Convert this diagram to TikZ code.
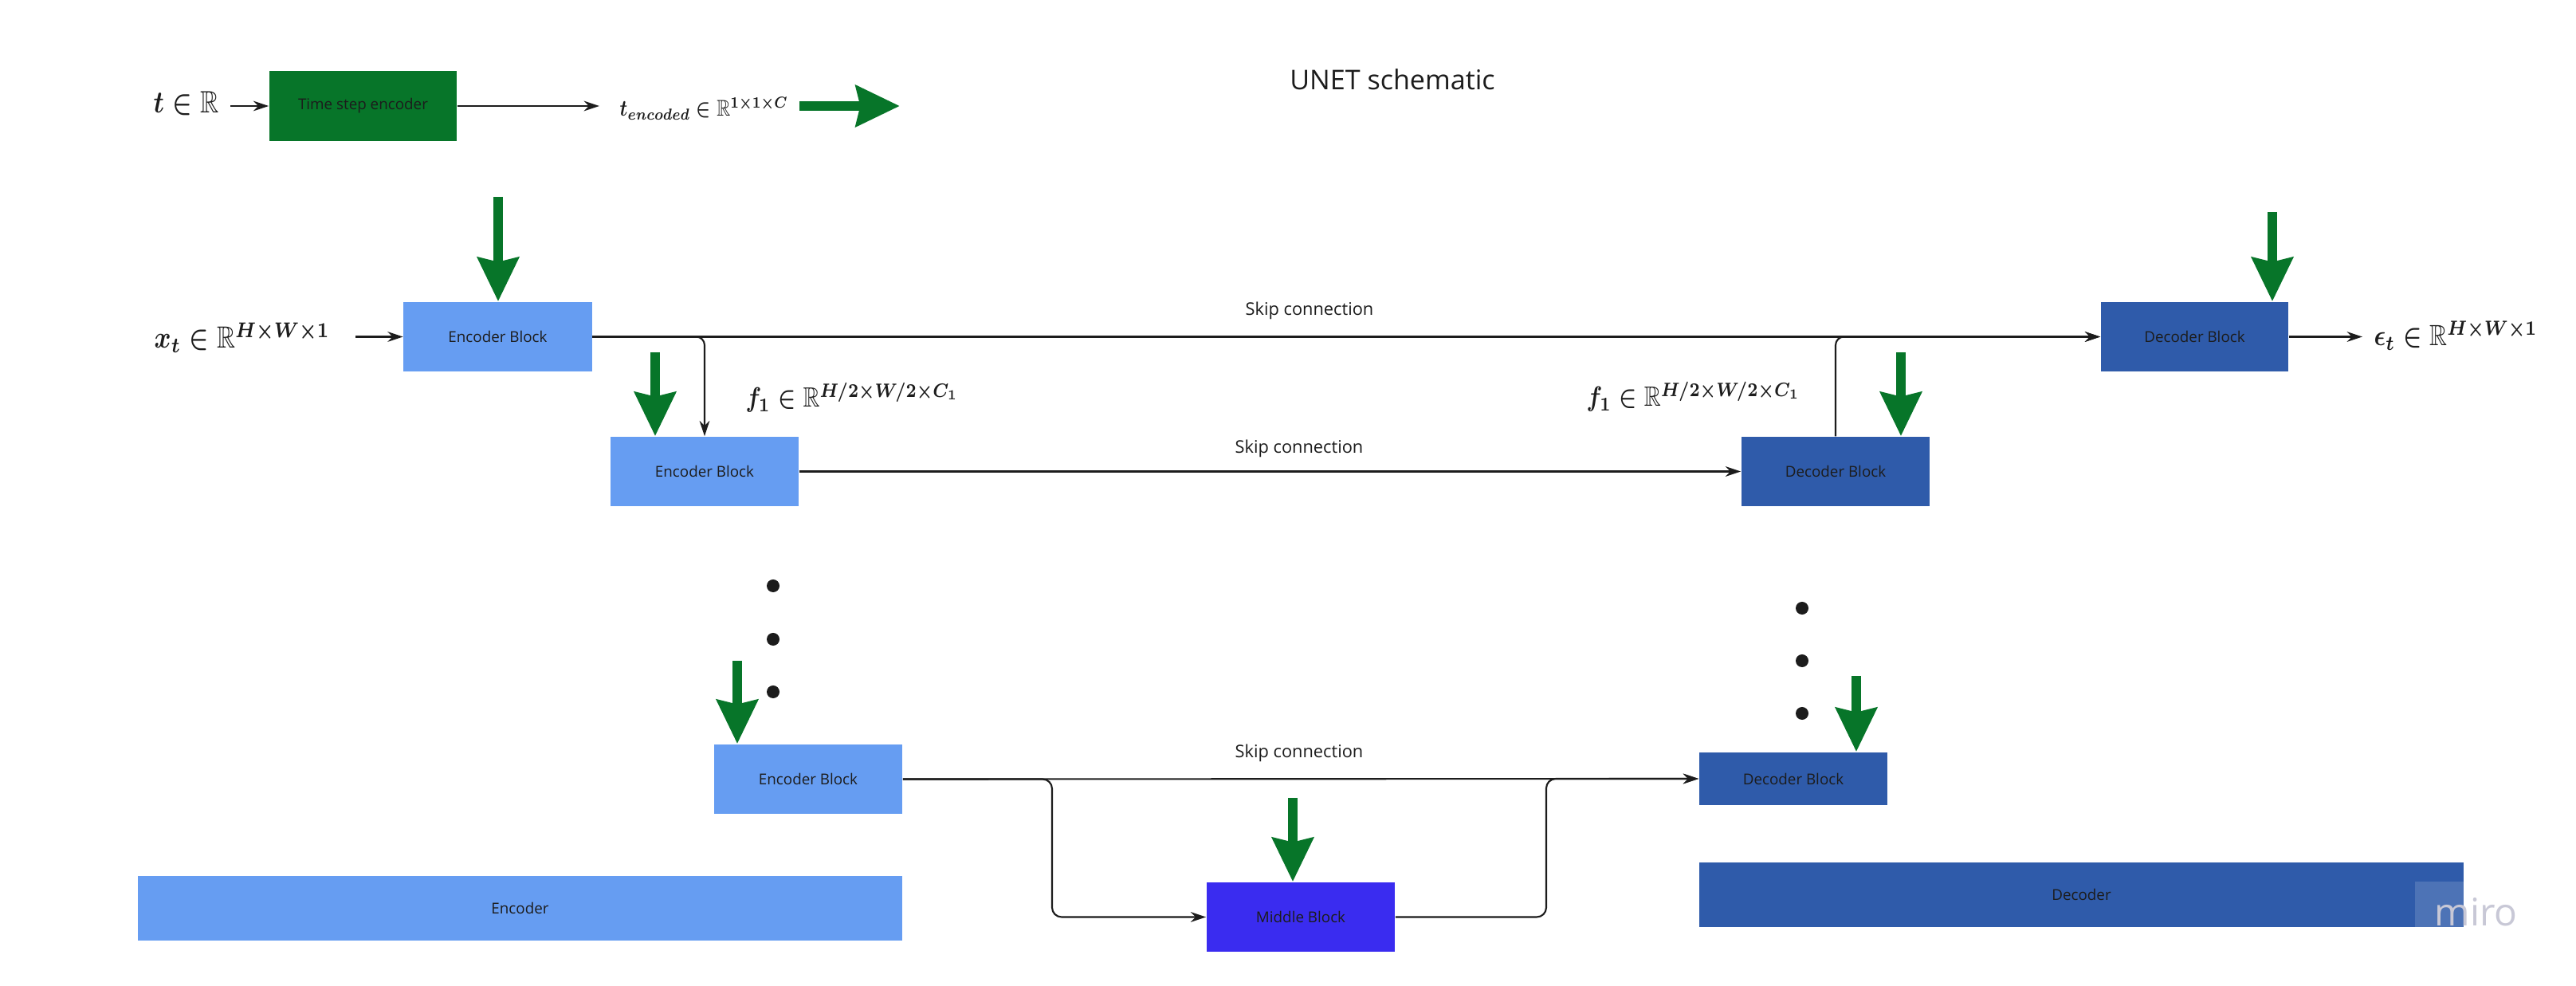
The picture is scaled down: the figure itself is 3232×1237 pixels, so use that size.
\documentclass[tikz,border=0pt]{standalone}
\usepackage{amsmath,amssymb}
\usepackage[no-math]{fontspec}
\setmainfont{Open Sans}
\usetikzlibrary{arrows.meta}
\definecolor{encblue}{RGB}{102,157,242}
\definecolor{decblue}{RGB}{47,91,170}
\definecolor{midblue}{RGB}{58,44,240}
\definecolor{ggreen}{RGB}{7,117,41}
\definecolor{txt}{RGB}{28,28,28}
\definecolor{mirogray}{RGB}{200,200,214}
\newcommand{\mlab}[2]{\scalebox{1}[1.2]{\resizebox{#1}{!}{\boldmath$#2$}}}
\tikzset{
  blk/.style={rectangle, inner sep=0pt, minimum width=23.6mm, minimum height=8.7mm,
    font=\fontsize{5.35}{6}\selectfont, text=txt},
  encbox/.style={blk, fill=encblue},
  decbox/.style={blk, fill=decblue},
  conn/.style={draw=txt, line width=0.6pt, -{Stealth[length=5.5pt,width=3.6pt]}},
  garrow/.style={draw=ggreen, line width=3.6pt, -{Stealth[length=15.6pt,width=14.4pt,inset=1.5pt]}},
  mathlab/.style={anchor=base west, inner sep=0pt, text=txt, font=\fontsize{10}{12}\selectfont},
  skiplab/.style={anchor=base, inner sep=0pt, text=txt, font=\fontsize{6.2}{7}\selectfont},
  dotnode/.style={circle, fill=txt, inner sep=0pt, minimum size=1.6mm},
}
\begin{document}
\begin{tikzpicture}[x=0.01cm,y=-0.01cm]
\useasboundingbox[fill=white] (0,0) rectangle (3232,1237);

% title
\node[anchor=base, inner sep=0pt, text=txt, font=\fontsize{9.7}{11}\selectfont] (title) at (1747,113) {UNET schematic};

% time step encoder row
\node[blk, fill=ggreen, minimum width=23.5mm, minimum height=8.8mm] (ts) at (455.5,133) {Time step encoder};
\node[mathlab] (tlab) at (192,142) {\mlab{8.2mm}{t \in \mathbb{R}}};
\coordinate (tin) at (289,133);
\coordinate (tout) at (752,133);
\node[mathlab] (tenc) at (777,146) {\mlab{21.1mm}{t_{encoded} \in \mathbb{R}^{1\times 1\times C}}};
\coordinate (gh1) at (1003,133);
\coordinate (gh2) at (1129,133);
\draw[conn] (tin) -- (ts.west);
\draw[conn] (ts.east) -- (tout);
\draw[garrow] (gh1) -- (gh2);

% blocks
\node[encbox] (enc1) at (624.5,422.5) {Encoder Block};
\node[encbox] (enc2) at (884,591.5) {Encoder Block};
\node[encbox] (enc3) at (1014,977.5) {Encoder Block};
\node[blk, fill=midblue] (mid) at (1632,1150.5) {Middle Block};
\node[decbox, minimum height=6.6mm] (dec3) at (2250,977) {Decoder Block};
\node[decbox] (dec2) at (2303,591.5) {Decoder Block};
\node[decbox, minimum width=23.5mm] (dec1) at (2753.5,422.5) {Decoder Block};

\node[encbox, minimum width=95.8mm, minimum height=8.1mm] (encoder) at (652.5,1139.5) {Encoder};
\node[decbox, minimum width=95.9mm, minimum height=8.1mm] (decoder) at (2611.5,1122.5) {Decoder};

% labels
\node[mathlab] (xlab) at (193,437) {\mlab{22mm}{x_t \in \mathbb{R}^{H\times W\times 1}}};
\node[mathlab] (f1a) at (935,511) {\mlab{26.7mm}{f_1 \in \mathbb{R}^{H/2\times W/2\times C_1}}};
\node[mathlab] (f1b) at (1990,510) {\mlab{26.8mm}{f_1 \in \mathbb{R}^{H/2\times W/2\times C_1}}};
\node[mathlab] (elab) at (2978,434) {\mlab{20.5mm}{\epsilon_t \in \mathbb{R}^{H\times W\times 1}}};
\node[skiplab] (s1) at (1643,396) {Skip connection};
\node[skiplab] (s2) at (1630,569) {Skip connection};
\node[skiplab] (s3) at (1630,951) {Skip connection};

% connectors
\coordinate (xin) at (446,422.5);
\coordinate (eout) at (2964,422.5);
\draw[conn] (xin) -- (enc1.west);
\draw[conn] (enc1.east) -- (dec1.west);
\draw[conn, rounded corners=3pt] (enc1.east) -| (enc2.north);
\draw[conn] (enc2.east) -- (dec2.west);
\draw[conn, rounded corners=3pt] (dec2.north) |- (dec1.west);
\draw[conn] (dec1.east) -- (eout);
\draw[conn] (enc3.east) -- (dec3.west);
\coordinate (b1) at (1320,1150.5);
\coordinate (b2) at (1940,977);
\draw[conn, rounded corners=3.4pt] (enc3.east) -| (b1) -- (mid.west);
\draw[conn, rounded corners=3.4pt] (mid.east) -| (b2) -- (dec3.west);

% green conditioning arrows
\coordinate (g1) at (625,247);
\coordinate (g2) at (822,442);
\coordinate (g3) at (925,829);
\coordinate (g4) at (1622,1001);
\coordinate (g5) at (2851,266);
\coordinate (g6) at (2385,442);
\coordinate (g7) at (2329,848);
\draw[garrow] (g1) -- (g1 |- enc1.north);
\draw[garrow] (g2) -- (g2 |- enc2.north);
\draw[garrow] (g3) -- (g3 |- enc3.north);
\draw[garrow] (g4) -- (g4 |- mid.north);
\draw[garrow] (g5) -- (g5 |- dec1.north);
\draw[garrow] (g6) -- (g6 |- dec2.north);
\draw[garrow] (g7) -- (g7 |- dec3.north);

% dots
\node[dotnode] (d1) at (970,735) {};
\node[dotnode] (d2) at (970,802) {};
\node[dotnode] (d3) at (970,868) {};
\node[dotnode] (d4) at (2261,763) {};
\node[dotnode] (d5) at (2261,829) {};
\node[dotnode] (d6) at (2261,895) {};

% watermark
\fill[white, opacity=0.15] (3030,1106) rectangle (3091,1163);
\node[anchor=base west, inner sep=0pt, text=mirogray, font=\fontsize{13.6}{15}\selectfont] (miro) at (3054,1161) {miro};
\end{tikzpicture}
\end{document}
